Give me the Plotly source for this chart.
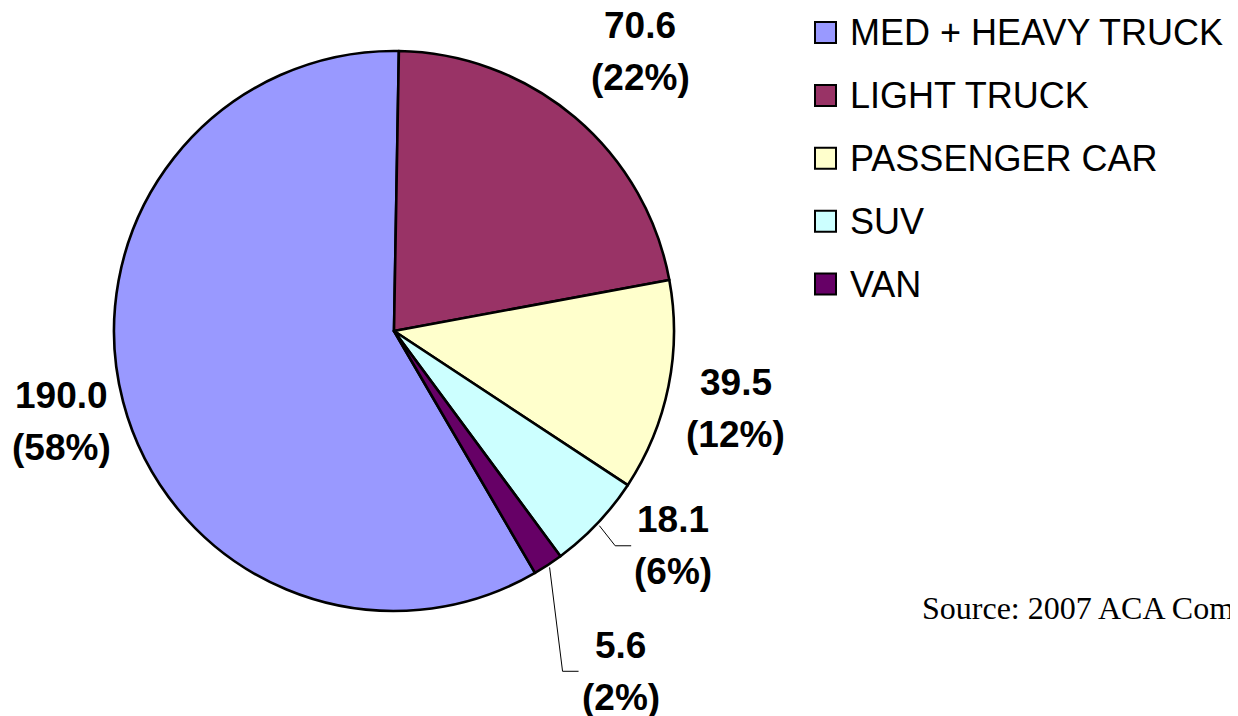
import math
import plotly.graph_objects as go

categories = ["MED + HEAVY TRUCK", "LIGHT TRUCK", "PASSENGER CAR", "SUV", "VAN"]
values = [190.0, 70.6, 39.5, 18.1, 5.6]
pct_labels = ["(58%)", "(22%)", "(12%)", "(6%)", "(2%)"]
colors = ["#9999FF", "#993366", "#FFFFCC", "#CCFFFF", "#660066"]

# label placement: radius factor and small angle shift from slice middle
label_k = [1.229, 1.33, 1.252, 1.258, 1.46]
label_da = [-0.6, 1.2, 1.25, -5.9, -0.3]
leader = [False, False, False, True, True]

W, H = 1238, 716
OFF = 8  # page body margin in the browser
cx, cy, R = 394, 331, 280
top_gap = 1.0  # degrees past 12 o'clock where the big slice ends


def px(x):
    return (x - OFF) / W


def py(y):
    return 1 - (y - OFF) / H


total = sum(values)
spans = [v / total * 360 for v in values]
rotation = (top_gap - spans[0]) % 360

fig = go.Figure()
fig.add_trace(go.Pie(
    labels=categories,
    values=values,
    sort=False,
    direction="clockwise",
    rotation=rotation,
    textinfo="none",
    hoverinfo="label+value+percent",
    marker=dict(colors=colors, line=dict(color="black", width=2.6)),
    domain=dict(x=[px(cx - R), px(cx + R)], y=[py(cy + R), py(cy - R)]),
    showlegend=False,
))

lab_font = dict(family="Liberation Sans, Arial", size=37, color="black")
annotations = []
shapes = []
start = rotation
for i, v in enumerate(values):
    mid = start + spans[i] / 2
    start += spans[i]
    a = math.radians(mid + label_da[i])
    lx = cx + R * label_k[i] * math.sin(a)
    ly = cy - R * label_k[i] * math.cos(a)
    annotations.append(dict(x=px(lx), y=py(ly - 26), xref="paper", yref="paper",
                            text="<b>%.1f</b>" % v, showarrow=False, font=lab_font,
                            xanchor="center", yanchor="middle"))
    annotations.append(dict(x=px(lx), y=py(ly + 26), xref="paper", yref="paper",
                            text="<b>%s</b>" % pct_labels[i], showarrow=False, font=lab_font,
                            xanchor="center", yanchor="middle"))
    if leader[i]:
        am = math.radians(mid)
        x0 = cx + (R + 3) * math.sin(am)
        y0 = cy - (R + 3) * math.cos(am)
        left = lx - 37
        path = "M %f,%f L %f,%f L %f,%f" % (px(x0), py(y0), px(left - 21), py(ly),
                                            px(left - 5), py(ly))
        shapes.append(dict(type="path", xref="paper", yref="paper", path=path,
                           line=dict(color="black", width=1)))

# legend drawn on the right
leg_y0, leg_step = 32.5, 62.9
for i, name in enumerate(categories):
    yc = leg_y0 + i * leg_step
    shapes.append(dict(type="rect", xref="paper", yref="paper",
                       x0=px(815), x1=px(836), y0=py(yc + 10.5), y1=py(yc - 10.5),
                       fillcolor=colors[i], line=dict(color="black", width=2)))
    annotations.append(dict(x=px(848), y=py(yc), xref="paper", yref="paper",
                            text=name, showarrow=False,
                            font=dict(family="Liberation Sans, Arial", size=36, color="black"),
                            xanchor="left", yanchor="middle"))

annotations.append(dict(x=px(920), y=py(608), xref="paper", yref="paper",
                        text="Source: 2007 ACA Com", showarrow=False,
                        font=dict(family="Liberation Serif, Times New Roman", size=32,
                                  color="black"),
                        xanchor="left", yanchor="middle"))

fig.update_layout(
    width=W, height=H,
    margin=dict(l=0, r=0, t=0, b=0),
    paper_bgcolor="white", plot_bgcolor="white",
    annotations=annotations, shapes=shapes,
)

fig.write_html("out.html")
